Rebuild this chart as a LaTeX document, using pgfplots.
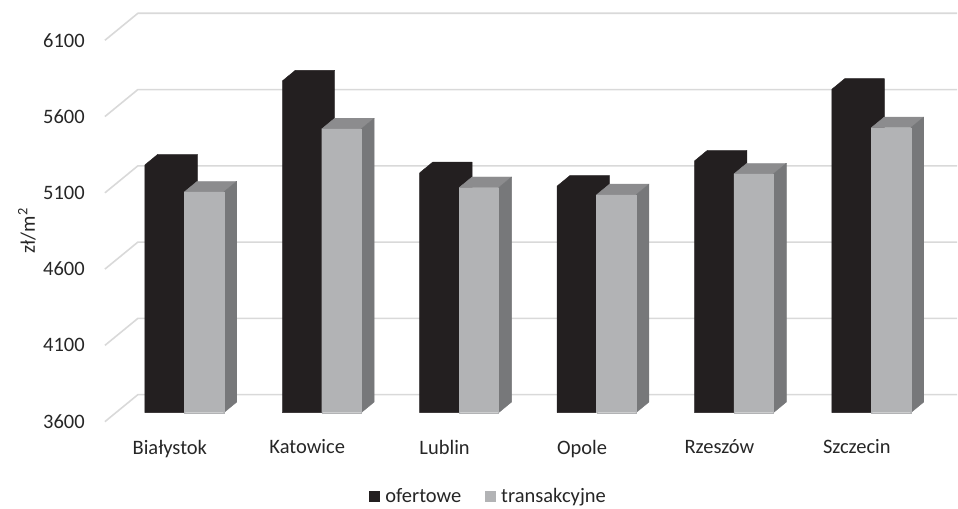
\documentclass[border=0pt]{standalone}
\usepackage{fontspec}
\setmainfont{Carlito}
\usepackage{pgfplots}
\usepackage{pgfplotstable}
\pgfplotsset{compat=1.18}
\definecolor{blackbar}{HTML}{231F20}
\definecolor{graybar}{HTML}{B2B3B5}
\definecolor{graytop}{HTML}{8C8C8E}
\definecolor{grayside}{HTML}{77787A}
\definecolor{gridc}{HTML}{D9D9D9}
\definecolor{txt}{HTML}{262626}
\pgfplotstableread{
idx ofert trans
0 5224 5047
1 5774 5460
2 5172 5075
3 5085 5028
4 5250 5165
5 5720 5468
}\datatable
\newcommand\dX{0.0945}
\newcommand\dY{70}
\newcommand\bw{0.2873}
\newcommand\setbar[2]{%
  \pgfmathsetmacro\bL{#1}\pgfmathsetmacro\bR{#1+\bw}%
  \pgfmathsetmacro\bLd{#1+\dX}\pgfmathsetmacro\bRd{#1+\bw+\dX}%
  \pgfmathsetmacro\bV{#2}\pgfmathsetmacro\bVd{#2+\dY}\pgfmathsetmacro\bBd{3600+\dY}%
}
% black bar: one outline
\newcommand\drawblack[2]{%
  \setbar{#1}{#2}%
  \edef\tmp{\noexpand\addplot[fill=blackbar,draw=blackbar,line width=0.4pt,line join=round,forget plot] coordinates {(\bL,3600) (\bR,3600) (\bRd,\bBd) (\bRd,\bVd) (\bLd,\bVd) (\bL,\bV) (\bL,3600)};}\tmp
}
% gray bar: three faces
\newcommand\drawgray[2]{%
  \setbar{#1}{#2}%
  \edef\tmp{\noexpand\addplot[fill=graytop,draw=graytop,line width=0.4pt,line join=round,forget plot] coordinates {(\bL,\bV) (\bLd,\bVd) (\bRd,\bVd) (\bR,\bV) (\bL,\bV)};}\tmp
  \edef\tmp{\noexpand\addplot[fill=grayside,draw=grayside,line width=0.4pt,line join=round,forget plot] coordinates {(\bR,3600) (\bRd,\bBd) (\bRd,\bVd) (\bR,\bV) (\bR,3600)};}\tmp
  \edef\tmp{\noexpand\addplot[fill=graybar,draw=graybar,line width=0.3pt,forget plot] coordinates {(\bL,3600) (\bR,3600) (\bR,\bV) (\bL,\bV) (\bL,3600)};}\tmp
}
\begin{document}
\begin{tikzpicture}
\begin{axis}[
  scale only axis, width=853pt, height=409pt,
  xmin=-0.578, xmax=5.625, ymin=3541.1, ymax=6220,
  clip=false,
  axis line style={draw=none},
  major tick length=0pt, tick style={draw=none},
  xtick={0,...,5},
  xticklabels={Białystok,Katowice,Lublin,Opole,Rzeszów,Szczecin},
  xticklabel style={anchor=north, inner sep=0pt, xshift=-14.5pt, yshift=-18pt},
  ytick={3541.1,4041.1,4541.1,5041.1,5541.1,6041.1},
  yticklabels={3600,4100,4600,5100,5600,6100},
  yticklabel style={anchor=east, inner sep=0pt, xshift=-20pt},
  ticklabel style={font=\fontsize{20.5}{24}\selectfont, text=txt},
  ylabel={zł/m\textsuperscript{2}},
  ylabel style={at={(axis description cs:-0.0914,0.467)}, anchor=center, font=\fontsize{20.5}{24}\selectfont, text=txt},
  legend style={at={(0.4496,-0.1834)}, anchor=center, draw=none, fill=none,
    legend columns=2, font=\fontsize{20.5}{24}\selectfont, text=txt,
    /tikz/every odd column/.append style={column sep=4pt},
    /tikz/every even column/.append style={column sep=22pt},
    nodes={inner sep=1.5pt}},
  legend image code/.code={\fill[#1] (0pt,-5.5pt) rectangle (11pt,5.5pt);},
]
\addlegendimage{fill=blackbar, draw=none}\addlegendentry{ofertowe}
\addlegendimage{fill=graybar, draw=none}\addlegendentry{transakcyjne}
% perspective gridlines
\addplot[gridc, line width=1.6pt, forget plot] coordinates {(-0.578,3541.1) (-0.3382,3718) (5.625,3718)};
\addplot[gridc, line width=1.6pt, forget plot] coordinates {(-0.578,4041.1) (-0.3382,4218) (5.625,4218)};
\addplot[gridc, line width=1.6pt, forget plot] coordinates {(-0.578,4541.1) (-0.3382,4718) (5.625,4718)};
\addplot[gridc, line width=1.6pt, forget plot] coordinates {(-0.578,5041.1) (-0.3382,5218) (5.625,5218)};
\addplot[gridc, line width=1.6pt, forget plot] coordinates {(-0.578,5541.1) (-0.3382,5718) (5.625,5718)};
\addplot[gridc, line width=1.6pt, forget plot] coordinates {(-0.578,6041.1) (-0.3382,6218) (5.625,6218)};
\pgfplotsforeachungrouped \i in {0,...,5}{%
  \pgfplotstablegetelem{\i}{ofert}\of\datatable \let\vo\pgfplotsretval
  \pgfplotstablegetelem{\i}{trans}\of\datatable \let\vt\pgfplotsretval
  \pgfmathsetmacro\La{\i-\bw}%
  \drawblack{\La}{\vo}%
  \drawgray{\i}{\vt}%
}
\path (rel axis cs:-0.1231,-0.2127) rectangle (rel axis cs:1,1.0318);
\end{axis}
\end{tikzpicture}
\end{document}
